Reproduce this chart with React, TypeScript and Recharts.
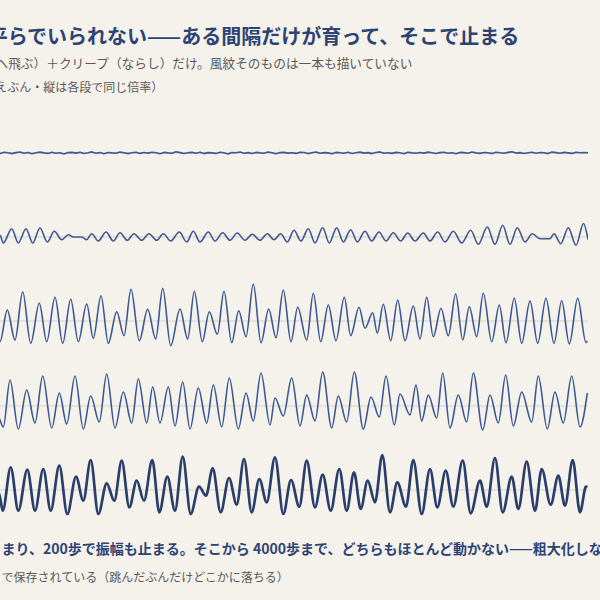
import React from "react";
import { LineChart, Line, XAxis, YAxis, ReferenceLine } from "recharts";

// ---- text ----
const titleText = "平らでいられない——ある間隔だけが育って、そこで止まる";
const subLine1 = "へ飛ぶ）＋クリープ（ならし）だけ。風紋そのものは一本も描いていない";
const subLine2 = "えぶん・縦は各段で同じ倍率）";
const footLine1 = "まり、200歩で振幅も止まる。そこから 4000歩まで、どちらもほとんど動かない——粗大化しない";
const footLine2 = "で保存されている（跳んだぶんだけどこかに落ちる）";

// ---- row 1: almost flat, tiny noise (sampled every 4 units from -4) ----
const row1Values = [
  0.3, -0.5, 0.8, 0.2, -0.6, 0.4, 1.0, -0.3, 0.5, -0.8, 0.2, 0.9, 0.1, -0.4, 0.7, -0.2, 0.3, -0.9, 0.4, 0.6,
  -0.1, 0.8, -0.5, 0.2, 1.1, -0.3, 0.4, -0.7, 0.5, 0.1, -0.2, 0.9, 0.3, -0.6, 0.2, 0.7, -0.4, 0.5, -0.1, 0.8,
  0.2, -0.8, 0.6, 0.1, -0.3, 1.2, 0.4, -0.5, 0.3, 0.6, -0.2, 0.8, -0.6, 0.4, 0.1, -0.4, 0.7, 0.2, -0.9, 0.5,
  0.3, 1.0, -0.2, 0.4, -0.5, 0.6, 0.1, -0.3, 0.9, 0.2, -0.7, 0.4, 0.6, -0.1, 0.3, -0.4, 0.8, 0.5, -0.6, 0.2,
  1.0, -0.2, 0.4, 0.1, -0.8, 0.6, 0.3, -0.3, 0.7, -0.5, 0.2, 0.9, -0.1, 0.4, -0.6, 0.5, 1.1, -0.2, 0.3, -0.4,
  0.6, 0.2, -0.7, 0.8, 0.1, -0.3, 0.5, -0.1, 0.9, 0.3, -0.5, 0.4, 0.7, -0.2, 0.2, -0.8, 0.6, 0.4, -0.3, 1.0,
  0.1, -0.4, 0.5, 0.3, -0.6, 0.8, 0.2, -0.2, 0.6, 1.2, -0.1, 0.4, -0.5, 0.3, 0.7, -0.3, 0.5, 0.2, -0.6, 0.9,
  0.4, -0.2, 0.6, 0.1, -0.4, 0.8, 0.3, 0.5, 0.2,
];
const row1Start = -4;
const row1Step = 4;

// ---- rows 2-5: [position, height] at crests and troughs ----
const row2: [number, number][] = [
  [-3, 0], [0, 1.7], [3.3, -6], [11.7, 8.3], [18.3, -6], [26, 8.3], [32.7, -6], [40, 9], [47.3, -5], [54.3, 5.7],
  [61.7, -2.7], [68.3, 2.3], [73.3, 0], [81.7, 0], [86.7, -2.7], [91.7, 3.3], [98.3, -4], [106, 5], [113.3, -4],
  [120, 4.3], [127.3, -3.3], [134, 3.3], [141.7, -3.3], [149, 3.3], [156.7, -3.3], [163.3, 3.3], [170.7, -4],
  [179.3, 5], [186.7, -5], [193.3, 5.7], [200, -5], [208.3, 5], [215, -4], [222.7, 4.3], [230, -3.3], [237.3, 4],
  [245, -3.3], [252.3, 2.7], [260, -3.3], [267.3, 3.3], [274, -2.7], [280.7, 3.3], [287.3, -5], [294, 6.7],
  [301, -4], [308.3, 8.3], [315, -6], [322.7, 9.3], [329.3, -6], [336.7, 9.3], [343.3, -5], [350.7, 7.3],
  [357.3, -5], [365, 5.7], [371.7, -4], [379, 5], [386, -4], [393.3, 4.3], [400.7, -4], [407.7, 4], [415, -4],
  [423.3, 4], [430, -4], [437.7, 5], [445, -5], [453.3, 5.7], [461.7, -6], [470.7, 6.7], [478.3, -7.3],
  [487.3, 10], [495, -7.3], [502.7, 11.7], [510, -7.3], [517.3, 9.3], [525, -5], [532.3, 3.3], [540, -1.7],
  [550, -1.7], [554, 3.3], [560.7, -6.7], [568.3, 9.3], [576, -8.3], [583.5, 13.5], [588, -2.5],
];

const row3: [number, number][] = [
  [-3, -17], [0, -20.7], [7.3, 11], [15, -19], [22.7, 29.3], [30.7, -22.3], [39.3, 17.7], [46.7, -20.7], [55, 23.7],
  [62.7, -22.3], [70.7, 21.7], [78.3, -20.7], [86.7, 17], [93.3, -17.3], [101, 25.3], [108.3, -22.3],
  [116.7, 9.3], [124, -14.7], [131, 31.7], [139.3, -19.7], [147.7, 11.7], [155.7, -18], [162.7, 32.7],
  [170.7, -24.7], [180, 12], [187.7, -18], [194.3, 29.7], [202.3, -20.7], [209.3, 9.3], [217.3, -13.3],
  [224, 29.7], [231.7, -21.7], [238.7, 10.3], [246, -15.7], [253.3, 37], [261, -21.7], [268.7, 12],
  [276, -16.7], [283.3, 31], [291, -20.7], [297.7, 13.7], [306.7, -19], [313.3, 27.7], [320.7, -20.7],
  [328.3, 16], [336, -19.7], [344.3, 23.7], [350.7, -14.7], [359, 13.7], [365, -7.3], [372.7, 8.3],
  [377.3, -12.3], [383.3, 16.7], [390.7, -19.7], [397.7, 21], [405, -19.7], [413.3, 15], [420, -18],
  [426.7, 23.7], [433.3, -15.7], [441, 12.7], [448.3, -14.7], [455.7, 27], [462.7, -19], [469.3, 14.3],
  [476.7, -15.7], [483.3, 27.7], [491.7, -20.7], [499.3, 16], [506, -21.7], [514.3, 22.7], [521.7, -22.3],
  [530, 20], [537.7, -22.3], [546, 22.7], [554, -22.3], [561.7, 20.3], [569.3, -23], [577.7, 22.7],
  [586, -21.7], [587.3, -19.7],
];

const row4: [number, number][] = [
  [-3, -8], [0, -14], [3.3, -21], [10, 26], [18.3, -23], [26.7, 16], [35, -17], [42.7, 30], [51.7, -22], [59.3, 13],
  [66.7, -18], [75, 30], [83.3, -23], [90.7, 10], [99.3, -16], [106.7, 32], [115, -22], [123.3, 14],
  [131.7, -17], [138.3, 27], [146.7, -17], [152.7, 19], [160, -17], [168.3, 19], [175, -20], [182.7, 24],
  [190, -23], [198.3, 18], [206.7, -17], [213.3, 21], [221.7, -21], [229.3, 28], [238.3, -23], [246, 13],
  [253.3, -15], [261, 33], [270, -19], [275, 8], [283.3, -10], [291.7, 28], [300, -20], [306.7, 11],
  [315, -15], [322.7, 34], [331.7, -22], [338.3, 10], [346.7, -16], [354.3, 34], [363.3, -23], [371, 9],
  [379.3, -11], [386, 30], [394.3, -19], [400, 12], [410, -9], [416, 21], [421.7, -15], [428.3, 11],
  [436.7, -12], [442.7, 33], [450, -22], [458.3, 11], [466.7, -16], [473.3, 33], [482.7, -24], [490, 11],
  [498.3, -17], [505.7, 31], [513.3, -20], [521.7, 14], [531.7, -16], [538.3, 30], [547.3, -23], [555, 14],
  [563.3, -17], [571.7, 30], [580, -21], [587.3, 13],
];

const row5: [number, number][] = [
  [-3, 2], [0, -7.3], [2.7, -20.7], [10.7, 22.7], [18.3, -20.7], [27.3, 20.3], [35, -20.7], [43.3, 21], [50.7, -20.7],
  [59.3, 24.3], [67.3, -24], [76, 13.3], [83.3, -10.7], [90.7, 30], [98.3, -24], [106.7, 6.7], [114.3, -10.7],
  [121.7, 29.3], [129.3, -17.3], [136.7, 9.3], [144, -10.7], [152.3, 30], [159.3, -22.3], [167.3, 13.3],
  [175, -20.7], [182.7, 33.3], [190.7, -24], [199, 3.3], [206, -5.7], [212.7, 21.7], [220.7, -22.3],
  [229, 12], [236.7, -14.7], [244, 31], [251.7, -22.3], [259.3, 11], [266.7, -12.3], [275, 32.7],
  [283.3, -24], [291, 10], [299.3, -16.7], [306.7, 29.3], [315, -17.3], [322.7, 15.3], [330.7, -20.7],
  [339.3, 21], [346.7, -20.7], [354, 17.7], [360.7, -19], [367.7, 9.3], [375, -12.3], [382.3, 35],
  [390, -22.3], [397.3, 7.7], [406, -16.7], [413.3, 30], [421.7, -24], [430, 21], [437.3, -17.3],
  [445.7, 19.3], [453.3, -16.7], [462.7, 29.3], [470.7, -23.3], [480, 9.3], [486.7, -16.7], [495, 32],
  [502.7, -22.3], [511.7, 13.3], [518.3, -19], [526.7, 28.3], [535, -20.7], [541.7, 21], [550.7, -14.7],
  [558.3, 14.3], [565, -15.7], [572.7, 30], [580, -22.3], [586, 3.3], [587.3, 2.7],
];

const BG = "#f5f2eb";
const LINE = "#3c5894";
const LINE_DARK = "#2a3e6c";
const BASE = "#d9d3c6";
const NAVY = "#2c4373";
const GREY = "#5a5a5a";
const FONT = '"Noto Sans CJK JP", "Noto Sans", sans-serif';

const X_MIN = -40;
const X_MAX = 588;
const CHART_W = X_MAX - X_MIN;
const CHART_H = 84;

type Pt = { x: number; v: number };

const toData = (rows: [number, number][]): Pt[] => rows.map(([x, v]) => ({ x, v }));
const row1Data: Pt[] = row1Values.map((v, i) => ({ x: row1Start + i * row1Step, v }));

const rowsCfg = [
  { data: row1Data, center: 153, stroke: LINE, width: 1.6, curve: "linear" as const },
  { data: toData(row2), center: 236.5, stroke: LINE, width: 1.6, curve: "monotone" as const },
  { data: toData(row3), center: 321, stroke: LINE, width: 1.6, curve: "monotone" as const },
  { data: toData(row4), center: 406, stroke: LINE, width: 1.6, curve: "monotone" as const },
  { data: toData(row5), center: 489.5, stroke: LINE_DARK, width: 2.7, curve: "monotone" as const },
];

function Row({ cfg }: { cfg: (typeof rowsCfg)[number] }) {
  return (
    <div style={{ position: "absolute", left: X_MIN, top: cfg.center - CHART_H / 2 }}>
      <LineChart width={CHART_W} height={CHART_H} data={cfg.data} margin={{ top: 0, right: 0, bottom: 0, left: 0 }}>
        <XAxis dataKey="x" type="number" domain={[X_MIN, X_MAX]} hide allowDataOverflow />
        <YAxis type="number" domain={[-42, 42]} hide allowDataOverflow />
        <ReferenceLine y={0} stroke={BASE} strokeWidth={1} ifOverflow="extendDomain" />
        <Line
          type={cfg.curve}
          dataKey="v"
          stroke={cfg.stroke}
          strokeWidth={cfg.width}
          dot={false}
          isAnimationActive={false}
          strokeLinejoin="round"
        />
      </LineChart>
    </div>
  );
}

const txt = (left: number, top: number, size: number, color: string, weight: number): React.CSSProperties => ({
  position: "absolute",
  left,
  top,
  fontSize: size,
  lineHeight: `${size}px`,
  color,
  fontWeight: weight,
  whiteSpace: "nowrap",
  fontFamily: FONT,
});

export default function App() {
  return (
    <div
      style={{
        position: "fixed",
        left: 0,
        top: 0,
        width: 600,
        height: 600,
        overflow: "hidden",
        background: BG,
      }}
    >
      <div style={txt(-12.3, 26, 20, NAVY, 700)}>{titleText}</div>
      <div style={txt(-4.5, 56.5, 12.7, GREY, 400)}>{subLine1}</div>
      <div style={txt(-4.7, 81, 12, GREY, 400)}>{subLine2}</div>
      {rowsCfg.map((cfg, i) => (
        <Row key={i} cfg={cfg} />
      ))}
      <div style={txt(1.5, 541, 14, NAVY, 700)}>{footLine1}</div>
      <div style={txt(1.5, 571, 12, GREY, 400)}>{footLine2}</div>
    </div>
  );
}
